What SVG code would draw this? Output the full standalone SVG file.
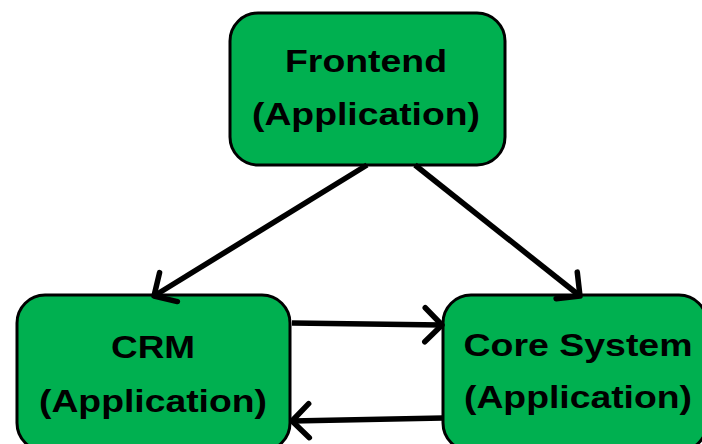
<svg xmlns="http://www.w3.org/2000/svg" width="702" height="444" viewBox="0 0 702 444">
<style>
.box{fill:#00B050;stroke:#000;stroke-width:3}
.lbl{font-family:"Liberation Sans",Arial,sans-serif;font-weight:bold;font-size:32px;fill:#000;text-anchor:middle}
.edge{stroke:#000;stroke-width:5.5;fill:none;marker-end:url(#arr)}
</style>
<defs>
<marker id="arr" markerUnits="userSpaceOnUse" viewBox="-22 -22 44 44" refX="0" refY="0" markerWidth="44" markerHeight="44" orient="auto" overflow="visible">
<path d="M -17 -17 L 0 0 L -17 17" fill="none" stroke="#000" stroke-width="5.5" stroke-linecap="round" stroke-linejoin="round"/>
</marker>
</defs>
<rect width="702" height="444" fill="#fff"/>
<g id="frontend">
<rect class="box" x="230" y="13" width="275" height="152" rx="28"/>
<text class="lbl" x="366" y="72" textLength="162" lengthAdjust="spacingAndGlyphs">Frontend</text>
<text class="lbl" x="366" y="125" textLength="228" lengthAdjust="spacingAndGlyphs">(Application)</text>
</g>
<g id="crm">
<rect class="box" x="17" y="295" width="273" height="156" rx="28"/>
<text class="lbl" x="153" y="358" textLength="84" lengthAdjust="spacingAndGlyphs">CRM</text>
<text class="lbl" x="153" y="412" textLength="228" lengthAdjust="spacingAndGlyphs">(Application)</text>
</g>
<g id="core">
<rect class="box" x="443" y="295" width="264" height="156" rx="28"/>
<text class="lbl" x="578" y="356" textLength="229" lengthAdjust="spacingAndGlyphs">Core System</text>
<text class="lbl" x="578" y="408" textLength="228" lengthAdjust="spacingAndGlyphs">(Application)</text>
</g>
<g id="connectors">
<path class="edge" d="M 367 165 L 154 296"/>
<path class="edge" d="M 415 165 L 580 296"/>
<path class="edge" d="M 292 323 L 442 325"/>
<path class="edge" d="M 443 418 L 292 421"/>
</g>
</svg>
